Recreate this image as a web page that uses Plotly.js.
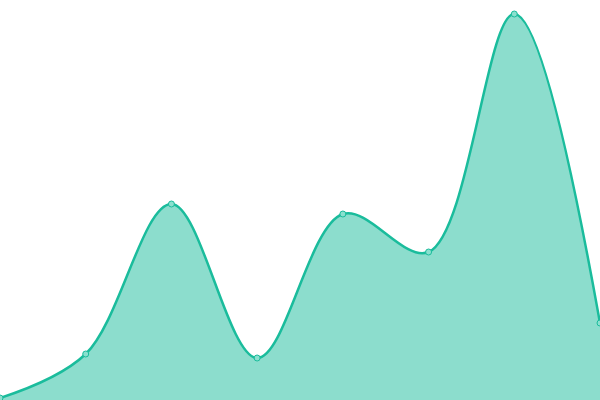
<!DOCTYPE html>
<html>
<head>
<meta charset="utf-8">
<script src="https://cdn.plot.ly/plotly-3.0.1.min.js"></script>
<style>
  html, body { margin: 0; padding: 0; background: #ffffff; }
  #chart { width: 600px; height: 400px; }
</style>
</head>
<body>
<div id="chart"></div>
<script>
const xs = [0, 1, 2, 3, 4, 5, 6, 7];
const values = [2, 46, 196, 42, 186, 148, 386, 77];

const trace = {
  x: xs,
  y: values,
  type: "scatter",
  mode: "lines+markers",
  fill: "tozeroy",
  fillcolor: "rgba(26,188,156,0.5)",
  line: { color: "#1abc9c", width: 2.5, shape: "spline", smoothing: 1 },
  marker: { size: 6, color: "#8be0cf", line: { color: "#1abc9c", width: 1 } },
  hoverinfo: "skip",
  cliponaxis: false,
};

Plotly.newPlot(
  "chart",
  [trace],
  {
    width: 600,
    height: 400,
    margin: { l: 0, r: 0, t: 0, b: 0 },
    paper_bgcolor: "#ffffff",
    plot_bgcolor: "#ffffff",
    showlegend: false,
    xaxis: { range: [0, 7], visible: false, fixedrange: true },
    yaxis: { range: [0, 400], visible: false, fixedrange: true },
  },
  { displayModeBar: false, staticPlot: true },
);
</script>
</body>
</html>
